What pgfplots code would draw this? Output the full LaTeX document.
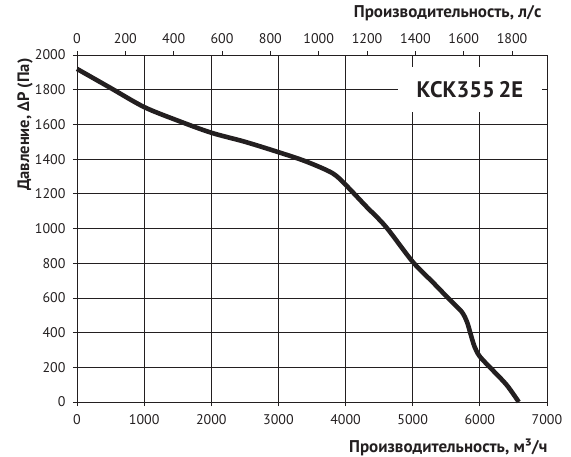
\documentclass[border=0pt]{standalone}
\usepackage{pgfplots}
\pgfplotsset{compat=1.18}
\usepackage{fontspec}
\setmainfont{PT Sans}
\definecolor{ink}{HTML}{231F20}
\begin{document}
\begin{tikzpicture}
\path[use as bounding box] (-77pt,-54pt) rectangle (494pt,402pt);
\begin{axis}[
  at={(0,0)}, anchor=south west,
  scale only axis, width=470pt, height=347pt,
  xmin=0, xmax=7000, ymin=0, ymax=2000,
  xtick={0,1000,...,7000}, ytick={0,200,...,2000},
  xtick pos=left, ytick pos=left,
  grid=major, major grid style={ink, line width=0.8pt},
  axis line style={ink, line width=0.9pt},
  tick style={ink, line width=0.8pt}, tick align=outside, major tick length=4pt,
  /pgf/number format/assume math mode=true,
  /pgf/number format/1000 sep={},
  tick label style={font=\fontsize{14}{14}\selectfont, text=ink},
  xticklabel style={yshift=-5pt},
  yticklabel style={xshift=-4pt},
  clip=false,
]
\addplot[ink, line width=4.6pt, smooth, tension=0.5] coordinates {
(0,1920) (500,1810) (1000,1700) (1500,1622) (2000,1552) (2500,1500)
(3000,1440) (3400,1388) (3800,1320) (4000,1252) (4300,1130) (4600,1010)
(5000,808) (5300,690) (5550,590) (5730,520) (5810,460) (5860,395)
(5920,320) (6000,262) (6200,180) (6400,98) (6580,0)
};
\node[fill=white, inner sep=0pt, minimum width=144pt, minimum height=45pt,
  font=\fontsize{22.5}{22.5}\selectfont\bfseries, text=ink] at (axis cs:5852,1801) {КСК355\,2Е};
\node[xshift=-52pt, rotate=90, anchor=east, font=\fontsize{16.5}{16.5}\selectfont\bfseries, text=ink]
  at (axis description cs:0,1) {Давление, ΔP (Па)};
\node[yshift=41.5pt, xshift=-2pt, anchor=east, font=\fontsize{17}{17}\selectfont\bfseries, text=ink]
  at (axis description cs:1,1) {Производительность, л/с};
\node[yshift=-45pt, xshift=4pt, anchor=east, font=\fontsize{17}{17}\selectfont\bfseries, text=ink]
  at (axis description cs:1,0) {Производительность, м³/ч};
\end{axis}
\begin{axis}[
  at={(0,0)}, anchor=south west,
  scale only axis, width=470pt, height=347pt,
  xmin=0, xmax=1944.444, ymin=0, ymax=2000,
  axis x line*=top, axis y line=none,
  xtick={0,200,...,1800},
  axis line style={ink, line width=0.9pt},
  tick style={ink, line width=0.8pt}, tick align=outside, major tick length=4pt,
  /pgf/number format/assume math mode=true,
  /pgf/number format/1000 sep={},
  tick label style={font=\fontsize{14}{14}\selectfont, text=ink},
  xticklabel style={yshift=4pt},
]
\addplot[draw=none] coordinates {(0,0) (1800,0)};
\end{axis}
\end{tikzpicture}
\end{document}
